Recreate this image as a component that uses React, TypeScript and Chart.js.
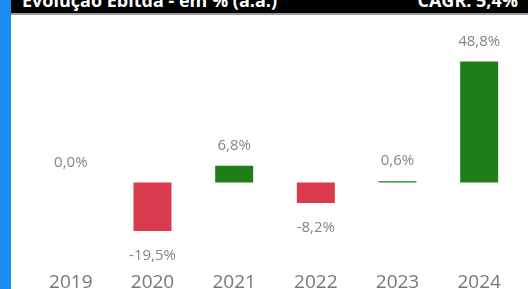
import React, { useEffect, useRef } from "react";
import { Chart, registerables } from "chart.js";
Chart.register(...registerables);

const categories = ["2019", "2020", "2021", "2022", "2023", "2024"];
const growth = [0.0, -19.5, 6.8, -8.2, 0.6, 48.8];
const titleText = "Evolução Ebitda - em % (a.a.)";
const cagrText = "CAGR: 5,4%";

const POS = "#1F7E17";
const NEG = "#D93A4C";

const fmt = (v: number) => v.toFixed(1).replace(".", ",") + "%";

const labelPlugin = {
  id: "valueLabels",
  afterDatasetsDraw(chart: any) {
    const ctx = chart.ctx;
    const meta = chart.getDatasetMeta(0);
    ctx.save();
    ctx.font = "15px 'Open Sans'";
    ctx.fillStyle = "#858585";
    ctx.textAlign = "center";
    ctx.textBaseline = "middle";
    meta.data.forEach((el: any, i: number) => {
      const v = growth[i];
      const top = Math.min(el.y, el.base);
      const bottom = Math.max(el.y, el.base);
      const y = v >= 0 ? top - 20 : bottom + 25;
      ctx.fillText(fmt(v), el.x, y);
    });
    ctx.restore();
  },
};

export default function App() {
  const ref = useRef<HTMLCanvasElement | null>(null);
  useEffect(() => {
    if (!ref.current) return;
    const chart = new Chart(ref.current, {
      type: "bar",
      data: {
        labels: categories,
        datasets: [
          {
            data: growth,
            backgroundColor: growth.map((v) => (v >= 0 ? POS : NEG)),
            borderWidth: 0,
            barPercentage: 0.465,
            categoryPercentage: 1,
          },
        ],
      },
      options: {
        responsive: false,
        animation: false,
        devicePixelRatio: 1,
        layout: { padding: { top: 40, left: 30, right: 8, bottom: 0 } },
        plugins: { legend: { display: false }, tooltip: { enabled: false } },
        scales: {
          x: {
            grid: { display: false, drawTicks: false },
            border: { display: false },
            ticks: {
              font: { family: "Open Sans", size: 19 },
              color: "#777777",
              padding: 4,
              maxRotation: 0,
              autoSkip: false,
            },
          },
          y: { display: false, min: -34.1, max: 57.5 },
        },
      },
      plugins: [labelPlugin],
    });
    return () => chart.destroy();
  }, []);

  const headText: React.CSSProperties = {
    position: "absolute",
    top: -9,
    fontFamily: "'Open Sans'",
    fontWeight: 700,
    fontSize: 18,
    lineHeight: "18px",
    color: "#fff",
    whiteSpace: "nowrap",
  };

  return (
    <div
      style={{
        position: "fixed",
        left: 0,
        top: 0,
        width: 528,
        height: 289,
        overflow: "hidden",
        background: "#fff",
      }}
    >
      <canvas
        ref={ref}
        width={528}
        height={298}
        style={{ position: "absolute", left: 0, top: 0, width: 528, height: 298 }}
      />
      <div
        style={{
          position: "absolute",
          left: 11,
          top: 0,
          width: 517,
          height: 13,
          background: "#000",
          borderBottom: "2px solid #9a9a9a",
          overflow: "hidden",
        }}
      >
        <span style={{ ...headText, left: 11 }}>{titleText}</span>
        <span style={{ ...headText, right: 10 }}>{cagrText}</span>
      </div>
      <div
        style={{
          position: "absolute",
          left: 0,
          top: 0,
          width: 11,
          height: 289,
          background: "#1B8CF2",
        }}
      />
    </div>
  );
}
